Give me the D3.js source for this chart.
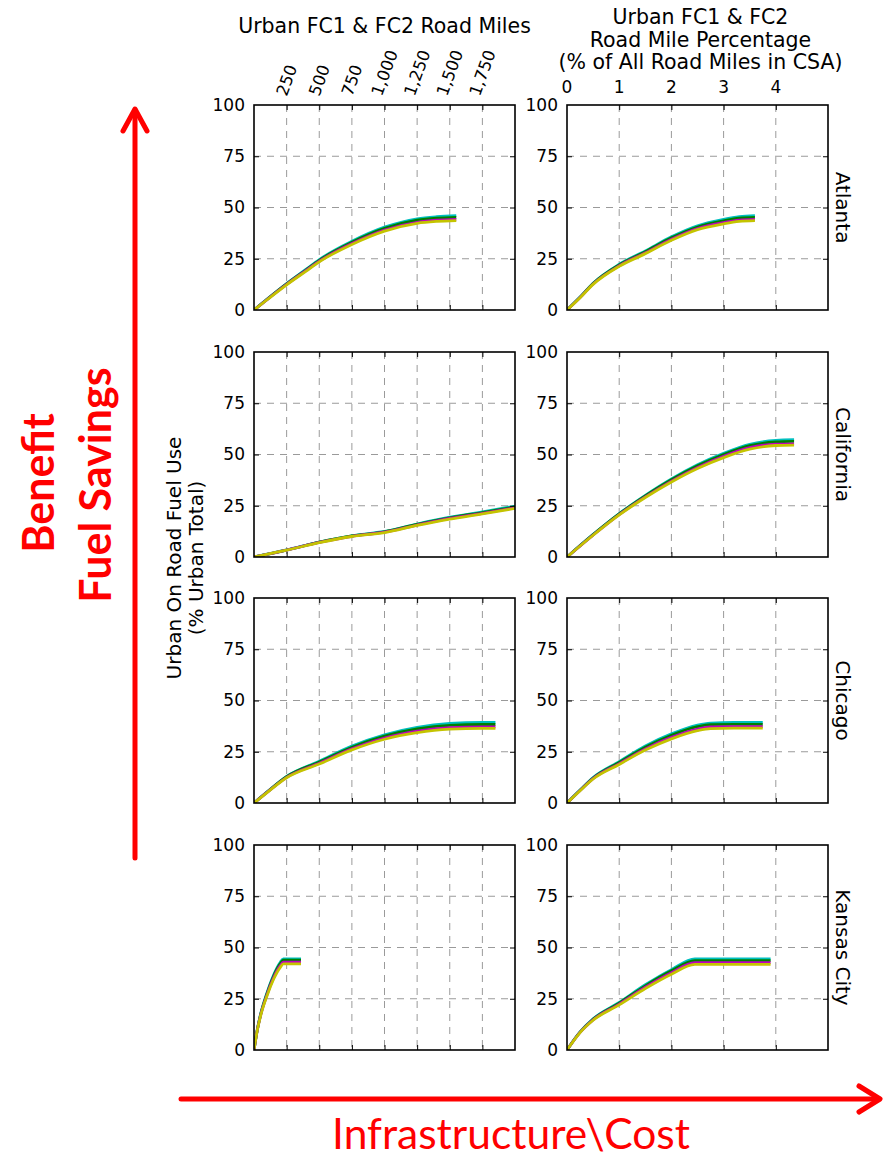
<!DOCTYPE html>
<html>
<head>
<meta charset="utf-8">
<script src="https://cdn.jsdelivr.net/npm/d3@7"></script>
<style>
  html, body { margin: 0; padding: 0; background: #fff; }
  svg { display: block; }
  text { font-family: "DejaVu Sans", sans-serif; }
</style>
</head>
<body>
<script>
// ---------------- DATA ----------------
const cities = ["Atlanta", "California", "Chicago", "Kansas City"];
const seriesNames = ["Scenario A", "Scenario B", "Scenario C", "Scenario D"];
const milesTicks = [250, 500, 750, 1000, 1250, 1500, 1750];
const pctTicks = [0, 1, 2, 3, 4];
const fuelTicks = [0, 25, 50, 75, 100];

// Atlanta
const atlantaMilesX = [0, 100, 250, 400, 500, 750, 1000, 1250, 1400, 1550];
const atlantaMilesY = [
  [0, 5.3, 12.9, 19.9, 24.6, 33.5, 40.4, 44.5, 45.5, 46.0],
  [0, 5.2, 12.7, 19.6, 24.2, 33.0, 39.8, 43.8, 44.8, 45.2],
  [0, 5.1, 12.5, 19.3, 23.8, 32.4, 39.0, 42.8, 43.8, 44.2],
  [0, 5.0, 12.3, 19.0, 23.5, 32.0, 38.5, 42.3, 43.2, 43.6]
];
const atlantaPctX = [0, 0.25, 0.5, 1, 1.5, 2, 2.5, 3, 3.3, 3.6];
const atlantaPctY = [
  [0, 6.3, 13.1, 22.3, 28.8, 35.7, 41.1, 44.2, 45.5, 46.0],
  [0, 6.2, 12.9, 22.0, 28.4, 35.2, 40.5, 43.5, 44.8, 45.2],
  [0, 6.1, 12.7, 21.6, 27.9, 34.5, 39.7, 42.6, 43.8, 44.2],
  [0, 6.0, 12.5, 21.3, 27.5, 34.0, 39.2, 42.0, 43.2, 43.6]
];

// California
const californiaMilesX = [0, 250, 500, 750, 1000, 1250, 1500, 1750, 2000];
const californiaMilesY = [
  [0, 3.45, 7.3, 10.35, 12.45, 16.1, 19.4, 22.0, 24.8],
  [0, 3.4, 7.2, 10.25, 12.3, 15.9, 19.1, 21.7, 24.4],
  [0, 3.35, 7.1, 10.1, 12.1, 15.6, 18.8, 21.3, 24.0],
  [0, 3.3, 7.0, 10.0, 11.9, 15.4, 18.5, 21.0, 23.7]
];
const californiaPctX = [0, 0.5, 1, 1.5, 2, 2.5, 3, 3.5, 4, 4.35];
const californiaPctY = [
  [0, 11.0, 21.2, 30.1, 38.1, 45.0, 50.6, 55.0, 56.9, 57.2],
  [0, 10.9, 21.0, 29.8, 37.7, 44.5, 50.0, 54.3, 56.1, 56.4],
  [0, 10.7, 20.7, 29.3, 37.0, 43.7, 49.1, 53.3, 55.0, 55.2],
  [0, 10.6, 20.5, 29.0, 36.6, 43.2, 48.5, 52.6, 54.4, 54.6]
];

// Chicago
const chicagoMilesX = [0, 100, 250, 500, 750, 1000, 1250, 1500, 1750, 1850];
const chicagoMilesY = [
  [0, 5.4, 13.0, 20.4, 27.8, 33.3, 36.9, 38.8, 39.3, 39.3],
  [0, 5.3, 12.8, 20.0, 27.2, 32.6, 36.1, 37.9, 38.3, 38.3],
  [0, 5.2, 12.5, 19.4, 26.4, 31.7, 35.0, 36.7, 37.1, 37.1],
  [0, 5.1, 12.3, 19.0, 25.9, 31.1, 34.3, 36.0, 36.4, 36.4]
];
const chicagoPctX = [0, 0.25, 0.5, 1, 1.5, 2, 2.5, 2.75, 3.2, 3.75];
const chicagoPctY = [
  [0, 6.3, 12.4, 20.2, 27.8, 33.7, 38.0, 39.0, 39.3, 39.3],
  [0, 6.2, 12.2, 19.8, 27.2, 33.0, 37.2, 38.2, 38.4, 38.4],
  [0, 6.1, 11.9, 19.2, 26.4, 32.0, 36.1, 37.1, 37.3, 37.3],
  [0, 6.0, 11.7, 18.8, 25.8, 31.3, 35.3, 36.3, 36.5, 36.5]
];

// Kansas City
const kansasMilesX = [0, 25, 50, 100, 150, 200, 225, 360];
const kansasMilesY = [
  [0, 9.9, 17.3, 28.0, 36.6, 42.7, 44.5, 44.5],
  [0, 9.8, 17.1, 27.6, 36.0, 42.0, 43.8, 43.8],
  [0, 9.6, 16.8, 27.0, 35.2, 41.0, 42.8, 42.8],
  [0, 9.5, 16.5, 26.5, 34.5, 40.2, 42.0, 42.0]
];
const kansasPctX = [0, 0.25, 0.5, 1, 1.5, 2, 2.45, 3.9];
const kansasPctY = [
  [0, 8.8, 15.2, 23.2, 31.8, 39.2, 44.4, 44.4],
  [0, 8.7, 15.0, 22.9, 31.3, 38.6, 43.6, 43.6],
  [0, 8.6, 14.7, 22.4, 30.6, 37.7, 42.6, 42.6],
  [0, 8.5, 14.5, 22.0, 30.0, 37.0, 41.8, 41.8]
];

const milesPanels = [
  [atlantaMilesX, atlantaMilesY],
  [californiaMilesX, californiaMilesY],
  [chicagoMilesX, chicagoMilesY],
  [kansasMilesX, kansasMilesY]
];
const pctPanels = [
  [atlantaPctX, atlantaPctY],
  [californiaPctX, californiaPctY],
  [chicagoPctX, chicagoPctY],
  [kansasPctX, kansasPctY]
];

// ---------------- LAYOUT ----------------
const W = 884, H = 1159;
const colX = [254, 567];
const rowY = [105, 352, 598, 845];
const pw = 261, ph = 205;
const colors = ["#00bfbf", "#008000", "#bf00bf", "#c4c400"];

const svg = d3.select("body").append("svg").attr("width", W).attr("height", H);

const xMiles = d3.scaleLinear().domain([0, 2000]).range([0, pw]);
const xPct = d3.scaleLinear().domain([0, 5]).range([0, pw]);
const y = d3.scaleLinear().domain([0, 100]).range([ph, 0]);

function drawPanel(col, row, xs, xData, yData, gridTicks) {
  const g = svg.append("g").attr("transform", `translate(${colX[col]},${rowY[row]})`);
  const clipId = `clip-${col}-${row}`;
  g.append("clipPath").attr("id", clipId).append("rect")
    .attr("width", pw).attr("height", ph);

  // grid
  const grid = g.append("g").attr("stroke", "#9a9a9a").attr("stroke-width", 1)
    .attr("stroke-dasharray", "7,6");
  gridTicks.filter(t => xs(t) > 0.5 && xs(t) < pw - 0.5).forEach(t => {
    grid.append("line").attr("x1", xs(t)).attr("x2", xs(t)).attr("y1", 0).attr("y2", ph);
  });
  [25, 50, 75].forEach(t => {
    grid.append("line").attr("x1", 0).attr("x2", pw).attr("y1", y(t)).attr("y2", y(t));
  });

  // lines
  const line = d3.line().curve(d3.curveMonotoneX).x(d => xs(d[0])).y(d => y(d[1]));
  const lg = g.append("g").attr("clip-path", `url(#${clipId})`);
  yData.forEach((vals, i) => {
    const pts = xData.map((xv, k) => [xv, vals[k]]);
    lg.append("path").datum(pts).attr("d", line)
      .attr("fill", "none").attr("stroke", colors[i]).attr("stroke-width", 2.8)
      .attr("stroke-linejoin", "round").attr("stroke-linecap", "butt");
  });

  // tick marks (inward) on all sides
  const tickVals = gridTicks.filter(t => xs(t) > 0.5 && xs(t) < pw - 0.5);
  const ax = [
    g.append("g").attr("transform", `translate(0,${ph})`).call(d3.axisBottom(xs).tickValues(tickVals).tickSize(-5).tickFormat("")),
    g.append("g").call(d3.axisTop(xs).tickValues(tickVals).tickSize(-5).tickFormat("")),
    g.append("g").attr("transform", `translate(${pw},0)`).call(d3.axisRight(y).tickValues([25, 50, 75]).tickSize(-5).tickFormat(""))
  ];
  const left = g.append("g").call(d3.axisLeft(y).tickValues(fuelTicks).tickSize(-5).tickPadding(9).tickFormat(d3.format("d")));
  ax.push(left);
  ax.forEach(a => {
    a.select(".domain").remove();
    a.selectAll(".tick line").attr("stroke", "#000").attr("stroke-width", 1);
  });
  left.selectAll(".tick text").attr("font-size", 17).attr("font-family", "DejaVu Sans").attr("fill", "#000");
  left.selectAll(".tick").filter(d => d === 0 || d === 100).select("line").remove();

  // frame
  g.append("rect").attr("width", pw).attr("height", ph)
    .attr("fill", "none").attr("stroke", "#000").attr("stroke-width", 1.6);
  return g;
}

cities.forEach((c, r) => {
  drawPanel(0, r, xMiles, milesPanels[r][0], milesPanels[r][1], milesTicks);
  drawPanel(1, r, xPct, pctPanels[r][0], pctPanels[r][1], pctTicks);
  // facet label
  svg.append("text")
    .attr("transform", `translate(${colX[1] + pw + 8},${rowY[r] + ph / 2}) rotate(90)`)
    .attr("text-anchor", "middle").attr("font-size", 20).text(c);
});

// top tick labels, left column (rotated)
const topL = svg.append("g");
milesTicks.forEach(t => {
  const tx = colX[0] + xMiles(t);
  const txt = topL.append("text").attr("font-size", 16.5).attr("text-anchor", "middle")
    .attr("dy", "0.35em").text(d3.format(",")(t));
  const L = txt.node().getComputedTextLength();
  const a = 70 * Math.PI / 180;
  const vExt = L * Math.sin(a) + 12 * Math.cos(a);
  const cy = 97 - vExt / 2;
  txt.attr("transform", `translate(${tx},${cy}) rotate(-70)`);
});
// top tick labels, right column
pctTicks.forEach(t => {
  svg.append("text").attr("x", colX[1] + xPct(t)).attr("y", 93)
    .attr("text-anchor", "middle").attr("font-size", 17).text(t);
});

// column titles
svg.append("text").attr("x", colX[0] + pw / 2).attr("y", 33)
  .attr("text-anchor", "middle").attr("font-size", 20.5).text("Urban FC1 & FC2 Road Miles");
["Urban FC1 & FC2", "Road Mile Percentage", "(% of All Road Miles in CSA)"].forEach((s, i) => {
  svg.append("text").attr("x", colX[1] + pw / 2 + 3).attr("y", 24 + i * 22.5)
    .attr("text-anchor", "middle").attr("font-size", 20.5).text(s);
});

// y axis label
["Urban On Road Fuel Use", "(% Urban Total)"].forEach((s, i) => {
  svg.append("text").attr("transform", `translate(${181 + i * 22},558) rotate(-90)`)
    .attr("text-anchor", "middle").attr("font-size", 20).text(s);
});

// ---------------- RED ANNOTATIONS ----------------
const red = "#ff0000";
const ann = svg.append("g").attr("stroke", red).attr("stroke-width", 5)
  .attr("stroke-linecap", "round").attr("stroke-linejoin", "round").attr("fill", "none");
ann.append("line").attr("x1", 135).attr("x2", 135).attr("y1", 858).attr("y2", 110);
ann.append("polyline").attr("points", "123,131 135,109 147,131");
ann.append("line").attr("x1", 181).attr("x2", 879).attr("y1", 1099).attr("y2", 1099);
ann.append("polyline").attr("points", "859,1086 880,1099 859,1112");

svg.append("text").attr("transform", "translate(54,483) rotate(-90)")
  .attr("text-anchor", "middle").attr("font-weight", "bold")
  .attr("font-size", 43).attr("fill", red).style("font-family", "Lato, sans-serif").text("Benefit");
svg.append("text").attr("transform", "translate(111,485) rotate(-90)")
  .attr("text-anchor", "middle").attr("font-weight", "bold")
  .attr("font-size", 43).attr("fill", red).style("font-family", "Lato, sans-serif").text("Fuel Savings");
svg.append("text").attr("x", 511).attr("y", 1149)
  .attr("text-anchor", "middle").attr("font-size", 42.5).attr("fill", red)
  .style("font-family", "Lato, sans-serif").text("Infrastructure\\Cost");
</script>
</body>
</html>
